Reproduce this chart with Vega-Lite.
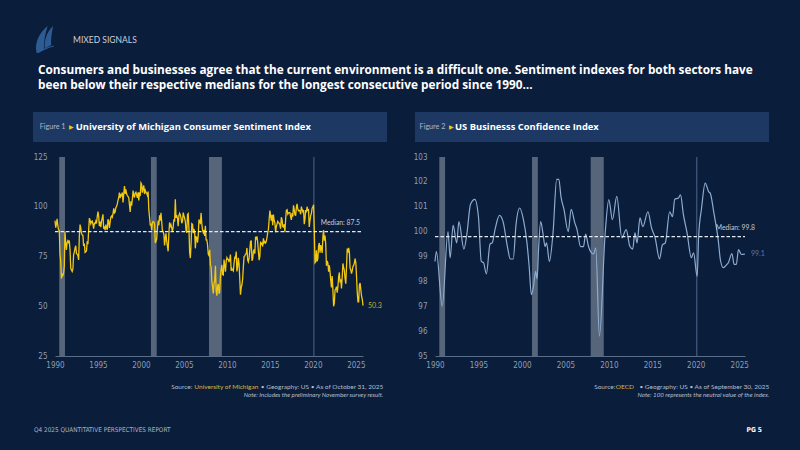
{
"$schema": "https://vega.github.io/schema/vega-lite/v6.json",
"background": "#0a1d3b",
"padding": {"left": 33, "top": 26, "right": 33, "bottom": 15},
"config": {"view": {"stroke": null}, "font": "Lato"},
"concat": [
{"concat": [
 {"width": 24, "height": 27,
  "data": {"values": [{"label": "MIXED SIGNALS"}]},
  "layer": [
   {"mark": {"type": "point", "shape": "M-0.62,1.0 C-0.8,0.3 -0.45,-0.5 0.2,-1.0 C0.02,-0.45 -0.1,0.15 -0.08,0.7 Z M-0.02,0.66 C-0.06,0.05 0.12,-0.55 0.6,-1.0 C0.5,-0.45 0.42,0.0 0.46,0.4 Z M-0.62,1.0 C-0.25,0.74 0.2,0.56 0.66,0.44 L0.66,0.52 C0.2,0.64 -0.2,0.82 -0.48,1.0 Z", "filled": true, "color": "#2d5b94", "opacity": 1, "size": 729}, "encoding": {}},
   {"mark": {"type": "text", "align": "left", "dx": 28, "font": "Lato", "fontSize": 8.5, "color": "#c9d2de"}, "encoding": {"text": {"field": "label"}}}
  ]},
 {"hconcat": [
  {"concat": [
   {"width": 354, "height": 30,
    "view": {"fill": "#1d3963", "stroke": null},
    "data": {"values": [{"fig": "Figure 1", "arrow": "▶", "title": "University of Michigan Consumer Sentiment Index"}]},
    "encoding": {"x": {"datum": 0, "type": "quantitative", "scale": {"domain": [0, 1]}, "axis": null}},
    "layer": [
     {"mark": {"type": "text", "align": "left", "dx": 6.7, "font": "Lato", "fontSize": 7.2, "color": "#a9b6c8"}, "encoding": {"text": {"field": "fig"}}},
     {"mark": {"type": "text", "align": "left", "dx": 35.5, "fontSize": 5.5, "color": "#f2c811"}, "encoding": {"text": {"field": "arrow"}}},
     {"mark": {"type": "text", "align": "left", "dx": 42.7, "font": "Open Sans", "fontWeight": "bold", "fontSize": 9.4, "color": "#ffffff"}, "encoding": {"text": {"field": "title"}}}
    ]},
   {"concat": [
    {"width": 330, "height": 199,
     "layer": [
      {"data": {"values": [{"s": "1990-07", "e": "1991-03"}, {"s": "2001-03", "e": "2001-11"}, {"s": "2007-12", "e": "2009-06"}]},
       "mark": {"type": "rect", "color": "#5d6b80", "opacity": 0.92},
       "encoding": {"x": {"field": "s", "type": "temporal"}, "x2": {"field": "e"}}},
      {"data": {"values": [{}]}, "mark": {"type": "rule", "color": "#50668a", "strokeWidth": 1},
       "encoding": {"x": {"datum": {"year": 2020, "month": 2, "date": 15}, "type": "temporal"}}},
      {"data": {"values": [
{"t":"1990-01","v":93.0},{"t":"1990-02","v":89.5},{"t":"1990-03","v":91.3},{"t":"1990-04","v":93.9},{"t":"1990-05","v":90.6},{"t":"1990-06","v":88.3},{"t":"1990-07","v":88.2},{"t":"1990-08","v":76.4},{"t":"1990-09","v":72.8},{"t":"1990-10","v":63.9},{"t":"1990-11","v":66.0},{"t":"1990-12","v":65.5},
{"t":"1991-01","v":66.8},{"t":"1991-02","v":70.4},{"t":"1991-03","v":87.7},{"t":"1991-04","v":81.8},{"t":"1991-05","v":78.3},{"t":"1991-06","v":82.1},{"t":"1991-07","v":82.9},{"t":"1991-08","v":82.0},{"t":"1991-09","v":83.0},{"t":"1991-10","v":78.3},{"t":"1991-11","v":69.1},{"t":"1991-12","v":68.2},
{"t":"1992-01","v":67.5},{"t":"1992-02","v":68.8},{"t":"1992-03","v":76.0},{"t":"1992-04","v":77.2},{"t":"1992-05","v":79.2},{"t":"1992-06","v":80.4},{"t":"1992-07","v":76.6},{"t":"1992-08","v":76.1},{"t":"1992-09","v":75.6},{"t":"1992-10","v":73.3},{"t":"1992-11","v":85.3},{"t":"1992-12","v":91.0},
{"t":"1993-01","v":89.3},{"t":"1993-02","v":86.6},{"t":"1993-03","v":85.9},{"t":"1993-04","v":85.6},{"t":"1993-05","v":80.3},{"t":"1993-06","v":81.5},{"t":"1993-07","v":77.0},{"t":"1993-08","v":77.3},{"t":"1993-09","v":77.9},{"t":"1993-10","v":82.7},{"t":"1993-11","v":81.2},{"t":"1993-12","v":88.2},
{"t":"1994-01","v":94.3},{"t":"1994-02","v":93.2},{"t":"1994-03","v":91.5},{"t":"1994-04","v":92.6},{"t":"1994-05","v":92.8},{"t":"1994-06","v":91.2},{"t":"1994-07","v":89.0},{"t":"1994-08","v":91.7},{"t":"1994-09","v":91.5},{"t":"1994-10","v":92.7},{"t":"1994-11","v":91.6},{"t":"1994-12","v":95.1},
{"t":"1995-01","v":97.6},{"t":"1995-02","v":95.1},{"t":"1995-03","v":90.3},{"t":"1995-04","v":92.5},{"t":"1995-05","v":89.8},{"t":"1995-06","v":92.7},{"t":"1995-07","v":94.4},{"t":"1995-08","v":96.2},{"t":"1995-09","v":88.9},{"t":"1995-10","v":90.2},{"t":"1995-11","v":88.2},{"t":"1995-12","v":91.0},
{"t":"1996-01","v":89.3},{"t":"1996-02","v":88.5},{"t":"1996-03","v":93.7},{"t":"1996-04","v":92.7},{"t":"1996-05","v":89.4},{"t":"1996-06","v":92.4},{"t":"1996-07","v":94.7},{"t":"1996-08","v":95.3},{"t":"1996-09","v":94.7},{"t":"1996-10","v":96.5},{"t":"1996-11","v":99.2},{"t":"1996-12","v":96.9},
{"t":"1997-01","v":97.4},{"t":"1997-02","v":99.7},{"t":"1997-03","v":100.0},{"t":"1997-04","v":101.4},{"t":"1997-05","v":103.2},{"t":"1997-06","v":104.5},{"t":"1997-07","v":107.1},{"t":"1997-08","v":104.4},{"t":"1997-09","v":106.0},{"t":"1997-10","v":105.6},{"t":"1997-11","v":107.2},{"t":"1997-12","v":102.1},
{"t":"1998-01","v":106.6},{"t":"1998-02","v":110.4},{"t":"1998-03","v":106.5},{"t":"1998-04","v":108.7},{"t":"1998-05","v":106.5},{"t":"1998-06","v":105.6},{"t":"1998-07","v":105.2},{"t":"1998-08","v":104.4},{"t":"1998-09","v":100.9},{"t":"1998-10","v":97.4},{"t":"1998-11","v":102.7},{"t":"1998-12","v":100.5},
{"t":"1999-01","v":103.9},{"t":"1999-02","v":108.1},{"t":"1999-03","v":105.7},{"t":"1999-04","v":104.6},{"t":"1999-05","v":106.8},{"t":"1999-06","v":107.3},{"t":"1999-07","v":106.0},{"t":"1999-08","v":104.5},{"t":"1999-09","v":107.2},{"t":"1999-10","v":103.2},{"t":"1999-11","v":107.2},{"t":"1999-12","v":105.4},
{"t":"2000-01","v":112.0},{"t":"2000-02","v":111.3},{"t":"2000-03","v":107.1},{"t":"2000-04","v":109.2},{"t":"2000-05","v":110.7},{"t":"2000-06","v":106.4},{"t":"2000-07","v":108.3},{"t":"2000-08","v":107.3},{"t":"2000-09","v":106.8},{"t":"2000-10","v":105.8},{"t":"2000-11","v":107.6},{"t":"2000-12","v":98.4},
{"t":"2001-01","v":94.7},{"t":"2001-02","v":90.6},{"t":"2001-03","v":91.5},{"t":"2001-04","v":88.4},{"t":"2001-05","v":92.0},{"t":"2001-06","v":92.6},{"t":"2001-07","v":92.4},{"t":"2001-08","v":91.5},{"t":"2001-09","v":81.8},{"t":"2001-10","v":82.7},{"t":"2001-11","v":83.9},{"t":"2001-12","v":88.8},
{"t":"2002-01","v":93.0},{"t":"2002-02","v":90.7},{"t":"2002-03","v":95.7},{"t":"2002-04","v":93.0},{"t":"2002-05","v":96.9},{"t":"2002-06","v":92.4},{"t":"2002-07","v":88.1},{"t":"2002-08","v":87.6},{"t":"2002-09","v":86.1},{"t":"2002-10","v":80.6},{"t":"2002-11","v":84.2},{"t":"2002-12","v":86.7},
{"t":"2003-01","v":82.4},{"t":"2003-02","v":79.9},{"t":"2003-03","v":77.6},{"t":"2003-04","v":86.0},{"t":"2003-05","v":92.1},{"t":"2003-06","v":89.7},{"t":"2003-07","v":90.9},{"t":"2003-08","v":89.3},{"t":"2003-09","v":87.7},{"t":"2003-10","v":89.6},{"t":"2003-11","v":93.7},{"t":"2003-12","v":92.6},
{"t":"2004-01","v":103.8},{"t":"2004-02","v":94.4},{"t":"2004-03","v":95.8},{"t":"2004-04","v":94.2},{"t":"2004-05","v":90.2},{"t":"2004-06","v":95.6},{"t":"2004-07","v":96.7},{"t":"2004-08","v":95.9},{"t":"2004-09","v":94.2},{"t":"2004-10","v":91.7},{"t":"2004-11","v":92.8},{"t":"2004-12","v":97.1},
{"t":"2005-01","v":95.5},{"t":"2005-02","v":94.1},{"t":"2005-03","v":92.6},{"t":"2005-04","v":87.7},{"t":"2005-05","v":86.9},{"t":"2005-06","v":96.0},{"t":"2005-07","v":96.5},{"t":"2005-08","v":89.1},{"t":"2005-09","v":76.9},{"t":"2005-10","v":74.2},{"t":"2005-11","v":81.6},{"t":"2005-12","v":91.5},
{"t":"2006-01","v":91.2},{"t":"2006-02","v":86.7},{"t":"2006-03","v":88.9},{"t":"2006-04","v":87.4},{"t":"2006-05","v":79.1},{"t":"2006-06","v":84.9},{"t":"2006-07","v":84.7},{"t":"2006-08","v":82.0},{"t":"2006-09","v":85.4},{"t":"2006-10","v":93.6},{"t":"2006-11","v":92.1},{"t":"2006-12","v":91.7},
{"t":"2007-01","v":96.9},{"t":"2007-02","v":91.3},{"t":"2007-03","v":88.4},{"t":"2007-04","v":87.1},{"t":"2007-05","v":88.3},{"t":"2007-06","v":85.3},{"t":"2007-07","v":90.4},{"t":"2007-08","v":83.4},{"t":"2007-09","v":83.4},{"t":"2007-10","v":80.9},{"t":"2007-11","v":76.1},{"t":"2007-12","v":75.5},
{"t":"2008-01","v":78.4},{"t":"2008-02","v":70.8},{"t":"2008-03","v":69.5},{"t":"2008-04","v":62.6},{"t":"2008-05","v":59.8},{"t":"2008-06","v":56.4},{"t":"2008-07","v":61.2},{"t":"2008-08","v":63.0},{"t":"2008-09","v":70.3},{"t":"2008-10","v":57.6},{"t":"2008-11","v":55.3},{"t":"2008-12","v":60.1},
{"t":"2009-01","v":61.2},{"t":"2009-02","v":56.3},{"t":"2009-03","v":57.3},{"t":"2009-04","v":65.1},{"t":"2009-05","v":68.7},{"t":"2009-06","v":70.8},{"t":"2009-07","v":66.0},{"t":"2009-08","v":65.7},{"t":"2009-09","v":73.5},{"t":"2009-10","v":70.6},{"t":"2009-11","v":67.4},{"t":"2009-12","v":72.5},
{"t":"2010-01","v":74.4},{"t":"2010-02","v":73.6},{"t":"2010-03","v":73.6},{"t":"2010-04","v":72.2},{"t":"2010-05","v":73.6},{"t":"2010-06","v":76.0},{"t":"2010-07","v":67.8},{"t":"2010-08","v":68.9},{"t":"2010-09","v":68.2},{"t":"2010-10","v":67.7},{"t":"2010-11","v":71.6},{"t":"2010-12","v":74.5},
{"t":"2011-01","v":74.2},{"t":"2011-02","v":77.5},{"t":"2011-03","v":67.5},{"t":"2011-04","v":69.8},{"t":"2011-05","v":74.3},{"t":"2011-06","v":71.5},{"t":"2011-07","v":63.7},{"t":"2011-08","v":55.8},{"t":"2011-09","v":59.5},{"t":"2011-10","v":60.8},{"t":"2011-11","v":63.7},{"t":"2011-12","v":69.9},
{"t":"2012-01","v":75.0},{"t":"2012-02","v":75.3},{"t":"2012-03","v":76.2},{"t":"2012-04","v":76.4},{"t":"2012-05","v":79.3},{"t":"2012-06","v":73.2},{"t":"2012-07","v":72.3},{"t":"2012-08","v":74.3},{"t":"2012-09","v":78.3},{"t":"2012-10","v":82.6},{"t":"2012-11","v":82.7},{"t":"2012-12","v":72.9},
{"t":"2013-01","v":73.8},{"t":"2013-02","v":77.6},{"t":"2013-03","v":78.6},{"t":"2013-04","v":76.4},{"t":"2013-05","v":84.5},{"t":"2013-06","v":84.1},{"t":"2013-07","v":85.1},{"t":"2013-08","v":82.1},{"t":"2013-09","v":77.5},{"t":"2013-10","v":73.2},{"t":"2013-11","v":75.1},{"t":"2013-12","v":82.5},
{"t":"2014-01","v":81.2},{"t":"2014-02","v":81.6},{"t":"2014-03","v":80.0},{"t":"2014-04","v":84.1},{"t":"2014-05","v":81.9},{"t":"2014-06","v":82.5},{"t":"2014-07","v":81.8},{"t":"2014-08","v":82.5},{"t":"2014-09","v":84.6},{"t":"2014-10","v":86.9},{"t":"2014-11","v":88.8},{"t":"2014-12","v":93.6},
{"t":"2015-01","v":98.1},{"t":"2015-02","v":95.4},{"t":"2015-03","v":93.0},{"t":"2015-04","v":95.9},{"t":"2015-05","v":90.7},{"t":"2015-06","v":96.1},{"t":"2015-07","v":93.1},{"t":"2015-08","v":91.9},{"t":"2015-09","v":87.2},{"t":"2015-10","v":90.0},{"t":"2015-11","v":91.3},{"t":"2015-12","v":92.6},
{"t":"2016-01","v":92.0},{"t":"2016-02","v":91.7},{"t":"2016-03","v":91.0},{"t":"2016-04","v":89.0},{"t":"2016-05","v":94.7},{"t":"2016-06","v":93.5},{"t":"2016-07","v":90.0},{"t":"2016-08","v":89.8},{"t":"2016-09","v":91.2},{"t":"2016-10","v":87.2},{"t":"2016-11","v":93.8},{"t":"2016-12","v":98.2},
{"t":"2017-01","v":98.5},{"t":"2017-02","v":96.3},{"t":"2017-03","v":96.9},{"t":"2017-04","v":97.0},{"t":"2017-05","v":97.1},{"t":"2017-06","v":95.0},{"t":"2017-07","v":93.4},{"t":"2017-08","v":96.8},{"t":"2017-09","v":95.1},{"t":"2017-10","v":100.7},{"t":"2017-11","v":98.5},{"t":"2017-12","v":95.9},
{"t":"2018-01","v":95.7},{"t":"2018-02","v":99.7},{"t":"2018-03","v":101.4},{"t":"2018-04","v":98.8},{"t":"2018-05","v":98.0},{"t":"2018-06","v":98.2},{"t":"2018-07","v":97.9},{"t":"2018-08","v":96.2},{"t":"2018-09","v":100.1},{"t":"2018-10","v":98.6},{"t":"2018-11","v":97.5},{"t":"2018-12","v":98.3},
{"t":"2019-01","v":91.2},{"t":"2019-02","v":93.8},{"t":"2019-03","v":98.4},{"t":"2019-04","v":97.2},{"t":"2019-05","v":100.0},{"t":"2019-06","v":98.2},{"t":"2019-07","v":98.4},{"t":"2019-08","v":89.8},{"t":"2019-09","v":93.2},{"t":"2019-10","v":95.5},{"t":"2019-11","v":96.8},{"t":"2019-12","v":99.3},
{"t":"2020-01","v":99.8},{"t":"2020-02","v":101.0},{"t":"2020-03","v":89.1},{"t":"2020-04","v":71.8},{"t":"2020-05","v":72.3},{"t":"2020-06","v":78.1},{"t":"2020-07","v":72.5},{"t":"2020-08","v":74.1},{"t":"2020-09","v":80.4},{"t":"2020-10","v":81.8},{"t":"2020-11","v":76.9},{"t":"2020-12","v":80.7},
{"t":"2021-01","v":79.0},{"t":"2021-02","v":76.8},{"t":"2021-03","v":84.9},{"t":"2021-04","v":88.3},{"t":"2021-05","v":82.9},{"t":"2021-06","v":85.5},{"t":"2021-07","v":81.2},{"t":"2021-08","v":70.3},{"t":"2021-09","v":72.8},{"t":"2021-10","v":71.7},{"t":"2021-11","v":67.4},{"t":"2021-12","v":70.6},
{"t":"2022-01","v":67.2},{"t":"2022-02","v":62.8},{"t":"2022-03","v":59.4},{"t":"2022-04","v":65.2},{"t":"2022-05","v":58.4},{"t":"2022-06","v":50.0},{"t":"2022-07","v":51.5},{"t":"2022-08","v":58.2},{"t":"2022-09","v":58.6},{"t":"2022-10","v":59.9},{"t":"2022-11","v":56.8},{"t":"2022-12","v":59.7},
{"t":"2023-01","v":64.9},{"t":"2023-02","v":67.0},{"t":"2023-03","v":62.0},{"t":"2023-04","v":63.5},{"t":"2023-05","v":59.0},{"t":"2023-06","v":64.4},{"t":"2023-07","v":71.5},{"t":"2023-08","v":69.5},{"t":"2023-09","v":67.9},{"t":"2023-10","v":63.8},{"t":"2023-11","v":61.3},{"t":"2023-12","v":69.7},
{"t":"2024-01","v":79.0},{"t":"2024-02","v":76.9},{"t":"2024-03","v":79.4},{"t":"2024-04","v":77.2},{"t":"2024-05","v":69.1},{"t":"2024-06","v":68.2},{"t":"2024-07","v":66.4},{"t":"2024-08","v":67.9},{"t":"2024-09","v":70.1},{"t":"2024-10","v":70.5},{"t":"2024-11","v":71.8},{"t":"2024-12","v":74.0},
{"t":"2025-01","v":71.7},{"t":"2025-02","v":64.7},{"t":"2025-03","v":57.0},{"t":"2025-04","v":52.2},{"t":"2025-05","v":52.2},{"t":"2025-06","v":60.7},{"t":"2025-07","v":61.7},{"t":"2025-08","v":58.2},{"t":"2025-09","v":55.1},{"t":"2025-10","v":53.6},{"t":"2025-11","v":50.3}
       ]},
       "mark": {"type": "line", "color": "#f2c811", "strokeWidth": 1.3},
       "encoding": {
        "x": {"field": "t", "type": "temporal", "scale": {"domain": [{"year": 1990, "month": 1, "date": 1}, {"year": 2025, "month": 11, "date": 1}], "range": [22, 330]},
              "axis": {"title": null, "values": [{"year": 1990}, {"year": 1995}, {"year": 2000}, {"year": 2005}, {"year": 2010}, {"year": 2015}, {"year": 2020}, {"year": 2025}], "tickCount": 10, "format": "%Y", "labelFlush": false, "labelFont": "Liberation Sans Narrow, DejaVu Sans Condensed, sans-serif", "labelFontSize": 8, "labelColor": "#8f9db2", "labelPadding": 5, "domainColor": "#5a6d88", "ticks": false, "grid": false}},
        "y": {"field": "v", "type": "quantitative", "scale": {"domain": [25, 125], "nice": false, "zero": false},
              "axis": {"title": null, "values": [25, 50, 75, 100, 125], "tickCount": 10, "format": "d", "labelOverlap": false, "labelFont": "Liberation Sans Narrow, DejaVu Sans Condensed, sans-serif", "labelFontSize": 8, "labelColor": "#8f9db2", "labelPadding": 8, "domain": false, "ticks": false, "grid": false, "offset": -22, "minExtent": 0}}
       }},
      {"data": {"values": [{}]}, "mark": {"type": "rule", "color": "#e6ebf2", "strokeWidth": 1.2, "strokeDash": [3.5, 2]},
       "encoding": {"x": {"datum": {"year": 1990, "month": 1, "date": 1}, "type": "temporal"}, "x2": {"datum": {"year": 2025, "month": 11, "date": 1}}, "y": {"datum": 87.5, "type": "quantitative"}}},
      {"data": {"values": [{"label": "Median: 87.5"}]}, "mark": {"type": "text", "align": "right", "dx": -3, "dy": -9, "fontSize": 6.8, "color": "#c3cbd7"},
       "encoding": {"x": {"datum": {"year": 2025, "month": 11, "date": 1}, "type": "temporal"}, "y": {"datum": 87.5, "type": "quantitative"}, "text": {"field": "label"}}},
      {"data": {"values": [{"label": "50.3"}]}, "mark": {"type": "text", "align": "left", "dx": 5, "fontSize": 7, "color": "#c9aa2e"},
       "encoding": {"x": {"datum": {"year": 2025, "month": 11, "date": 1}, "type": "temporal"}, "y": {"datum": 50.3, "type": "quantitative"}, "text": {"field": "label"}}}
     ]},
    {"concat": [
     {"width": 354, "height": 8,
      "data": {"values": [{"a": "Source:", "b": "University of Michigan", "c": "•  Geography: US  •  As of October 31, 2025"}]},
      "encoding": {"x": {"datum": 1, "type": "quantitative", "scale": {"domain": [0, 1]}, "axis": null}},
      "layer": [
       {"mark": {"type": "text", "align": "right", "dx": -194.7, "fontSize": 6.5, "color": "#b5bfcc"}, "encoding": {"text": {"field": "a"}}},
       {"mark": {"type": "text", "align": "right", "dx": -128.7, "fontSize": 6.5, "color": "#d8b93a"}, "encoding": {"text": {"field": "b"}}},
       {"mark": {"type": "text", "align": "right", "dx": -3.7, "fontSize": 6.5, "color": "#b5bfcc"}, "encoding": {"text": {"field": "c"}}}
      ]},
     {"width": 354, "height": 8,
      "data": {"values": [{"n": "Note: Includes the preliminary November survey result."}]},
      "mark": {"type": "text", "align": "right", "dx": -3.7, "fontSize": 6.2, "fontStyle": "italic", "color": "#b5bfcc"},
      "encoding": {"x": {"datum": 1, "type": "quantitative", "scale": {"domain": [0, 1]}, "axis": null}, "text": {"field": "n"}}}
    ], "columns": 1, "align": "none", "spacing": 0}
   ], "columns": 1, "align": "none", "spacing": 14}
  ], "columns": 1, "align": "none", "spacing": 11},
  {"concat": [
   {"width": 354, "height": 30,
    "view": {"fill": "#1d3963", "stroke": null},
    "data": {"values": [{"fig": "Figure 2", "arrow": "▶", "title": "US Businesss Confidence Index"}]},
    "encoding": {"x": {"datum": 0, "type": "quantitative", "scale": {"domain": [0, 1]}, "axis": null}},
    "layer": [
     {"mark": {"type": "text", "align": "left", "dx": 4.6, "font": "Lato", "fontSize": 7.2, "color": "#a9b6c8"}, "encoding": {"text": {"field": "fig"}}},
     {"mark": {"type": "text", "align": "left", "dx": 33.5, "fontSize": 5.5, "color": "#f2c811"}, "encoding": {"text": {"field": "arrow"}}},
     {"mark": {"type": "text", "align": "left", "dx": 40, "font": "Open Sans", "fontWeight": "bold", "fontSize": 9.4, "color": "#ffffff"}, "encoding": {"text": {"field": "title"}}}
    ]},
   {"concat": [
    {"width": 330, "height": 199,
     "layer": [
      {"data": {"values": [{"s": "1990-07", "e": "1991-03"}, {"s": "2001-03", "e": "2001-11"}, {"s": "2007-12", "e": "2009-06"}]},
       "mark": {"type": "rect", "color": "#5d6b80", "opacity": 0.92},
       "encoding": {"x": {"field": "s", "type": "temporal"}, "x2": {"field": "e"}}},
      {"data": {"values": [{}]}, "mark": {"type": "rule", "color": "#50668a", "strokeWidth": 1},
       "encoding": {"x": {"datum": {"year": 2020, "month": 2, "date": 15}, "type": "temporal"}}},
      {"data": {"values": [
{"t":"1990-01","v":98.8},{"t":"1990-03","v":99.2},{"t":"1990-11","v":97.0},{"t":"1991-07","v":100.0},{"t":"1991-10","v":98.95},{"t":"1992-02","v":100.25},{"t":"1992-07","v":99.55},{"t":"1992-10","v":100.4},{"t":"1993-05","v":99.3},{"t":"1993-09","v":99.9},
{"t":"1994-02","v":101.1},{"t":"1994-08","v":101.3},{"t":"1995-01","v":100.6},{"t":"1995-05","v":98.8},{"t":"1995-08","v":98.75},{"t":"1995-12","v":98.3},{"t":"1996-05","v":99.5},{"t":"1996-08","v":99.55},{"t":"1996-12","v":100.1},{"t":"1997-06","v":100.65},
{"t":"1997-11","v":100.4},{"t":"1998-05","v":99.4},{"t":"1998-09","v":98.9},{"t":"1999-01","v":98.9},{"t":"1999-05","v":100.3},{"t":"1999-10","v":100.95},{"t":"2000-03","v":100.5},{"t":"2000-08","v":99.55},{"t":"2000-11","v":98.6},{"t":"2001-02","v":97.47},
{"t":"2001-05","v":97.8},{"t":"2001-08","v":98.4},{"t":"2001-10","v":98.1},{"t":"2001-12","v":99.3},{"t":"2002-03","v":100.4},{"t":"2002-06","v":99.95},{"t":"2002-09","v":99.4},{"t":"2002-11","v":99.55},{"t":"2003-03","v":98.8},{"t":"2003-08","v":99.95},
{"t":"2004-01","v":102.1},{"t":"2004-04","v":102.1},{"t":"2004-07","v":101.4},{"t":"2004-11","v":100.9},{"t":"2005-05","v":100.0},{"t":"2005-09","v":100.9},{"t":"2006-02","v":100.35},{"t":"2006-05","v":100.1},{"t":"2006-10","v":99.4},{"t":"2007-02","v":99.4},
{"t":"2007-05","v":99.9},{"t":"2007-09","v":99.4},{"t":"2008-01","v":99.15},{"t":"2008-04","v":99.1},{"t":"2008-07","v":99.35},{"t":"2008-12","v":95.8},{"t":"2009-08","v":99.95},{"t":"2010-01","v":101.29},{"t":"2010-06","v":100.48},{"t":"2010-12","v":101.42},
{"t":"2011-07","v":99.75},{"t":"2012-01","v":100.08},{"t":"2012-06","v":99.41},{"t":"2012-10","v":99.3},{"t":"2013-01","v":99.95},{"t":"2013-04","v":99.55},{"t":"2013-08","v":100.55},{"t":"2013-12","v":100.2},{"t":"2014-07","v":100.8},{"t":"2014-12","v":100.15},
{"t":"2015-05","v":99.75},{"t":"2015-11","v":98.9},{"t":"2016-03","v":99.47},{"t":"2016-07","v":99.55},{"t":"2017-01","v":100.8},{"t":"2017-05","v":100.6},{"t":"2017-08","v":101.3},{"t":"2018-01","v":101.35},{"t":"2018-04","v":101.48},{"t":"2018-08","v":100.68},
{"t":"2019-01","v":99.95},{"t":"2019-07","v":98.95},{"t":"2019-10","v":99.15},{"t":"2020-03","v":98.2},{"t":"2020-05","v":99.8},{"t":"2020-09","v":100.94},{"t":"2021-02","v":101.95},{"t":"2021-07","v":101.6},{"t":"2021-09","v":101.55},{"t":"2022-02","v":100.75},
{"t":"2022-08","v":99.68},{"t":"2022-11","v":98.87},{"t":"2023-03","v":98.55},{"t":"2023-08","v":98.68},{"t":"2023-10","v":98.75},{"t":"2024-03","v":99.12},{"t":"2024-06","v":98.68},{"t":"2024-09","v":98.68},{"t":"2024-12","v":99.28},{"t":"2025-04","v":99.08},{"t":"2025-09","v":99.1}
       ]},
       "mark": {"type": "line", "color": "#8eacd0", "strokeWidth": 1.2, "interpolate": "monotone"},
       "encoding": {
        "x": {"field": "t", "type": "temporal", "scale": {"domain": [{"year": 1990, "month": 1, "date": 1}, {"year": 2025, "month": 9, "date": 1}], "range": [20, 330]},
              "axis": {"title": null, "values": [{"year": 1990}, {"year": 1995}, {"year": 2000}, {"year": 2005}, {"year": 2010}, {"year": 2015}, {"year": 2020}, {"year": 2025}], "tickCount": 10, "format": "%Y", "labelFlush": false, "labelFont": "Liberation Sans Narrow, DejaVu Sans Condensed, sans-serif", "labelFontSize": 8, "labelColor": "#8f9db2", "labelPadding": 5, "domainColor": "#5a6d88", "ticks": false, "grid": false}},
        "y": {"field": "v", "type": "quantitative", "scale": {"domain": [95, 103], "nice": false, "zero": false},
              "axis": {"title": null, "values": [95, 96, 97, 98, 99, 100, 101, 102, 103], "tickCount": 12, "format": "d", "labelOverlap": false, "labelFont": "Liberation Sans Narrow, DejaVu Sans Condensed, sans-serif", "labelFontSize": 8, "labelColor": "#8f9db2", "labelPadding": 8, "domain": false, "ticks": false, "grid": false, "offset": -20, "minExtent": 0}}
       }},
      {"data": {"values": [{}]}, "mark": {"type": "rule", "color": "#e6ebf2", "strokeWidth": 1.2, "strokeDash": [3.5, 2]},
       "encoding": {"x": {"datum": {"year": 1990, "month": 1, "date": 1}, "type": "temporal"}, "x2": {"datum": {"year": 2025, "month": 9, "date": 1}}, "y": {"datum": 99.8, "type": "quantitative"}}},
      {"data": {"values": [{"label": "Median: 99.8"}]}, "mark": {"type": "text", "align": "right", "dx": 10, "dy": -9, "fontSize": 6.8, "color": "#c3cbd7"},
       "encoding": {"x": {"datum": {"year": 2025, "month": 9, "date": 1}, "type": "temporal"}, "y": {"datum": 99.8, "type": "quantitative"}, "text": {"field": "label"}}},
      {"data": {"values": [{"label": "99.1"}]}, "mark": {"type": "text", "align": "left", "dx": 6, "fontSize": 7, "color": "#5f7b9e"},
       "encoding": {"x": {"datum": {"year": 2025, "month": 9, "date": 1}, "type": "temporal"}, "y": {"datum": 99.1, "type": "quantitative"}, "text": {"field": "label"}}}
     ]},
    {"concat": [
     {"width": 354, "height": 8,
      "data": {"values": [{"a": "Source:", "b": "OECD", "c": "•  Geography: US  •  As of September 30, 2025"}]},
      "encoding": {"x": {"datum": 1, "type": "quantitative", "scale": {"domain": [0, 1]}, "axis": null}},
      "layer": [
       {"mark": {"type": "text", "align": "right", "dx": -153.7, "fontSize": 6.5, "color": "#b5bfcc"}, "encoding": {"text": {"field": "a"}}},
       {"mark": {"type": "text", "align": "right", "dx": -135, "fontSize": 6.5, "color": "#d8b93a"}, "encoding": {"text": {"field": "b"}}},
       {"mark": {"type": "text", "align": "right", "dx": 0.3, "fontSize": 6.5, "color": "#b5bfcc"}, "encoding": {"text": {"field": "c"}}}
      ]},
     {"width": 354, "height": 8,
      "data": {"values": [{"n": "Note: 100 represents the neutral value of the index."}]},
      "mark": {"type": "text", "align": "right", "dx": 0.3, "fontSize": 6.2, "fontStyle": "italic", "color": "#b5bfcc"},
      "encoding": {"x": {"datum": 1, "type": "quantitative", "scale": {"domain": [0, 1]}, "axis": null}, "text": {"field": "n"}}}
    ], "columns": 1, "align": "none", "spacing": 0}
   ], "columns": 1, "align": "none", "spacing": 14}
  ], "columns": 1, "align": "none", "spacing": 11}
 ], "spacing": 26,
 "title": {"text": "Consumers and businesses agree that the current environment is a difficult one. Sentiment indexes for both sectors have", "subtitle": "been below their respective medians for the longest consecutive period since 1990…", "anchor": "start", "dx": 5, "font": "Open Sans", "fontSize": 11.8, "fontWeight": "bold", "color": "#ffffff", "subtitleFont": "Open Sans", "subtitleFontSize": 11.8, "subtitleFontWeight": "bold", "subtitleColor": "#ffffff", "subtitlePadding": 3, "offset": 20}}
], "columns": 1, "align": "none", "spacing": 12},
{"width": 734, "height": 10,
 "data": {"values": [{"l": "Q4 2025 QUANTITATIVE PERSPECTIVES REPORT", "r": "PG 5"}]},
 "encoding": {"x": {"datum": 0, "type": "quantitative", "scale": {"domain": [0, 1]}, "axis": null}},
 "layer": [
  {"mark": {"type": "text", "align": "left", "dx": 1, "font": "Liberation Sans Narrow, DejaVu Sans Condensed, sans-serif", "fontSize": 6.4, "color": "#aab5c5"}, "encoding": {"text": {"field": "l"}}},
  {"mark": {"type": "text", "align": "right", "dx": -5, "font": "Liberation Sans Narrow, DejaVu Sans Condensed, sans-serif", "fontWeight": "bold", "fontSize": 6.6, "color": "#ffffff"}, "encoding": {"x": {"datum": 1, "type": "quantitative"}, "text": {"field": "r"}}}
 ]}
], "columns": 1, "align": "none", "spacing": 26
}
